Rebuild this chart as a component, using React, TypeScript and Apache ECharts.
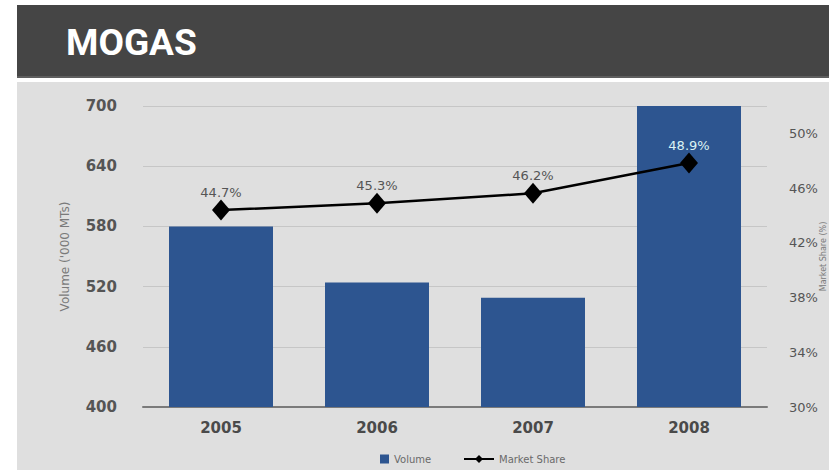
import React, { useEffect, useRef } from "react";
import * as echarts from "echarts";

const title = "MOGAS";
const years = ["2005", "2006", "2007", "2008"];
const volume = [580, 524, 509, 700];
const marketShare = [44.7, 45.3, 46.2, 48.9];
const volumeAxisName = "Volume ('000 MTs)";
const shareAxisName = "Market Share (%)";

export default function App() {
  const ref = useRef<HTMLDivElement>(null);
  useEffect(() => {
    if (!ref.current) return;
    const chart = echarts.init(ref.current, null, { renderer: "svg" });
    const font = "DejaVu Sans";
    chart.setOption({
      animation: false,
      backgroundColor: "#ffffff",
      graphic: [
        { type: "rect", shape: { x: 17, y: 5, width: 812, height: 71 }, style: { fill: "#454545" }, z: -10 },
        { type: "rect", shape: { x: 17, y: 76, width: 812, height: 2 }, style: { fill: "#5e5e5e" }, z: -10 },
        { type: "rect", shape: { x: 17, y: 82, width: 812, height: 388 }, style: { fill: "#dfdfdf" }, z: -10 },
        {
          type: "text",
          x: 66,
          y: 42,
          style: {
            text: title,
            fill: "#ffffff",
            font: "bold 37px Roboto",
            textVerticalAlign: "middle",
          },
          z: 10,
        },
      ],
      grid: { left: 143, right: 62, top: 106, bottom: 63, outerBoundsMode: "none", containLabel: false },
      legend: [
        {
          left: 375,
          top: 449,
          itemWidth: 9,
          itemHeight: 9,
          data: [{ name: "Volume", icon: "rect" }],
          textStyle: { fontFamily: font, fontSize: 10, color: "#6a6a6a" },
        },
        {
          left: 458,
          top: 449,
          itemWidth: 30,
          itemHeight: 10,
          data: ["Market Share"],
          textStyle: { fontFamily: font, fontSize: 10, color: "#6a6a6a" },
        },
      ],
      xAxis: {
        type: "category",
        data: years,
        axisLine: { lineStyle: { color: "#7a7a7a", width: 2 } },
        axisTick: { show: false },
        axisLabel: { fontFamily: font, fontSize: 15, fontWeight: "bold", color: "#4a4a4a", margin: 13 },
      },
      yAxis: [
        {
          type: "value",
          min: 400,
          max: 700,
          interval: 60,
          name: volumeAxisName,
          nameLocation: "middle",
          nameGap: 72,
          nameMoveOverlap: false,
          nameTextStyle: { fontFamily: font, fontSize: 12, color: "#7a7a7a" },
          axisLine: { show: false },
          axisTick: { show: false },
          axisLabel: { fontFamily: font, fontSize: 15, fontWeight: "bold", color: "#555555", margin: 26 },
          splitLine: { lineStyle: { color: "#c6c6c6", width: 1 } },
        },
        {
          type: "value",
          position: "right",
          min: 30,
          max: 52,
          interval: 4,
          name: shareAxisName,
          nameLocation: "middle",
          nameGap: 52,
          nameMoveOverlap: false,
          nameTextStyle: { fontFamily: font, fontSize: 8, color: "#7a7a7a" },
          axisLine: { show: false },
          axisTick: { show: false },
          splitLine: { show: false },
          axisLabel: {
            fontFamily: font,
            fontSize: 13,
            color: "#555555",
            margin: 22,
            showMaxLabel: false,
            formatter: "{value}%",
          },
        },
        {
          type: "value",
          show: false,
          min: 27.1,
          max: 54,
          splitLine: { show: false },
        },
      ],
      series: [
        {
          name: "Volume",
          type: "bar",
          data: volume,
          barWidth: 104,
          itemStyle: { color: "#2d5590" },
          yAxisIndex: 0,
        },
        {
          name: "Market Share",
          type: "line",
          yAxisIndex: 2,
          data: marketShare.map((v, i) =>
            i === marketShare.length - 1 ? { value: v, label: { color: "#dcf3f3" } } : v
          ),
          symbol: "diamond",
          symbolSize: [18, 21],
          lineStyle: { color: "#000000", width: 2.5 },
          itemStyle: { color: "#000000" },
          label: {
            show: true,
            position: "top",
            distance: 1,
            fontFamily: font,
            fontSize: 13,
            color: "#555555",
            formatter: (p: any) => p.value.toFixed(1) + "%",
          },
          z: 5,
        },
      ],
    });
    return () => chart.dispose();
  }, []);
  return (
    <div
      ref={ref}
      style={{ position: "fixed", left: 0, top: 0, width: 829, height: 470 }}
    />
  );
}
